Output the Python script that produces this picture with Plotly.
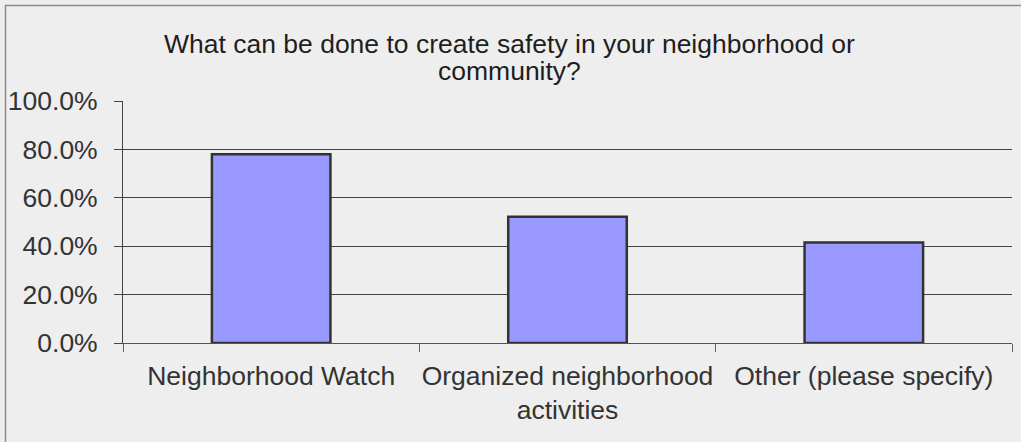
import plotly.graph_objects as go

categories = ["Neighborhood Watch", "Organized neighborhood<br>activities", "Other (please specify)"]
values = [0.780, 0.522, 0.415]
y_ticks = [0, 0.2, 0.4, 0.6, 0.8, 1.0]
y_tick_labels = ["0.0%", "20.0%", "40.0%", "60.0%", "80.0%", "100.0%"]
title_lines = ["What can be done to create safety in your neighborhood or", "community?"]

W, H = 1021, 442
L, R, T, B = 123, 1012, 101, 343
FONT = "Liberation Sans, Arial, sans-serif"

fig = go.Figure(go.Bar(
    x=categories, y=values, width=0.4,
    marker=dict(color="#9999FF", line=dict(color="#333333", width=2.5)),
))

pw, ph = R - L, B - T
def px(x): return (x - L) / pw
def py(y): return (B - y) / ph

fig.add_shape(type="rect", xref="paper", yref="paper",
              x0=px(5.5), x1=px(1030), y0=py(5.5), y1=py(460),
              line=dict(color="#8c8c8c", width=1.5), fillcolor="rgba(0,0,0,0)", layer="below")

for line, cy in zip(title_lines, [44.0, 71.5]):
    fig.add_annotation(text=line, xref="paper", yref="paper", x=px(509.5), y=py(cy),
                       xanchor="center", yanchor="middle", showarrow=False,
                       font=dict(family=FONT, size=26.5, color="#1e1e1e"))

fig.update_layout(
    width=W, height=H, autosize=False,
    margin=dict(l=L, r=W - R, t=T, b=H - B, autoexpand=False),
    paper_bgcolor="#eeeeee", plot_bgcolor="#eeeeee",
    font=dict(family=FONT, color="#333333"),
    showlegend=False,
)
fig.update_xaxes(
    type="category", tickson="boundaries", ticks="outside", ticklen=8, tickcolor="#666666",
    showline=True, linecolor="#555555", linewidth=1, showgrid=False,
    tickangle=0, automargin=False,
    tickfont=dict(family=FONT, size=26.5, color="#333333"), ticklabelstandoff=9,
)
fig.update_yaxes(
    range=[0, 1.0], tickvals=y_ticks, ticktext=y_tick_labels,
    ticks="outside", ticklen=8, tickcolor="#444444",
    showline=True, linecolor="#444444", linewidth=1, automargin=False,
    showgrid=True, gridcolor="#444444", gridwidth=1, zeroline=False,
    tickfont=dict(family=FONT, size=26.5, color="#333333"), ticklabelstandoff=11,
)
fig.write_html("out.html", config={"displayModeBar": False},
               post_script="document.body.style.margin='0px';")
